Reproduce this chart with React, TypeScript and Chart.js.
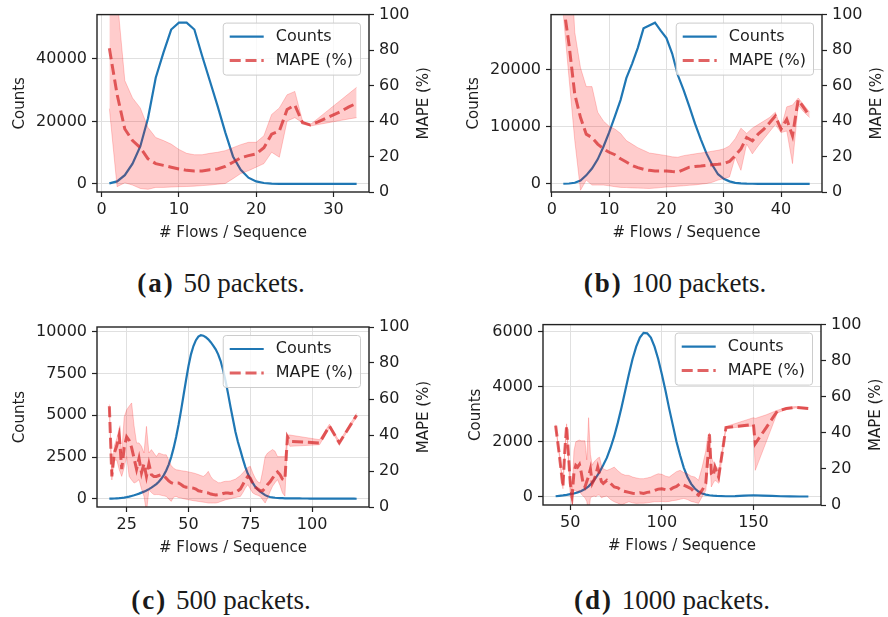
import React, { useEffect, useRef } from "react";
import { Chart, registerables } from "chart.js";
Chart.register(...registerables);

// ---------- shared texts / ticks ----------
const X_TITLE = "# Flows / Sequence";
const Y_TITLE = "Counts";
const Y2_TITLE = "MAPE (%)";
const LEGEND_LABELS = ["Counts", "MAPE (%)"];
const Y2_TICKS = [0, 20, 40, 60, 80, 100];
const Y2_LIM = [0, 100];

// ---------- (a) 50 packets ----------
const A_X = [1,2,3,4,5,6,7,8,9,10,11,12,13,14,15,16,17,18,19,20,21,22,23,24,25,26,27,28,29,30,31,32,33];
const A_COUNTS = [200,800,2800,6500,12000,21000,34000,42000,49400,51600,51600,49400,41000,33000,25000,16500,8800,4500,2000,800,300,100,50,30,20,20,10,10,10,10,10,10,10];
const A_MAPE = [81,55,35.5,29,25,18.7,16,15,14,13,12.2,11.9,11.9,12.6,13,14.4,16.8,19.3,20.5,21.5,25,32.6,34.4,46.5,49,39,37.8,39.5,41.5,43.5,45.5,48,50];
const A_HI = [160,110,62.8,53,47.4,36.3,30.7,29,27,24,21.8,21,21,21.8,22.4,23.3,25,26.7,28,28,31.7,43.7,47.4,54.8,56.7,40,38,41.5,45,48.5,52,55.5,59];
const A_LO = [47,3,5.2,3.9,2,1.5,2.6,2.6,2.8,3,3.1,3.3,3.6,3.9,4.4,4.8,7.5,10.4,12,14,16,22.4,19.6,40,41.9,39,37.2,38,38.8,39.6,40.4,41.2,41.9];
const A_XTICKS = [0, 10, 20, 30];
const A_XLIM = [-0.6, 34.6];
const A_YTICKS = [0, 20000, 40000];
const A_YLIM = [-2580, 54180];

// ---------- (b) 100 packets ----------
const B_X = [2,3,4,5,6,7,8,9,10,11,12,13,14,15,16,17,18,19,20,21,22,23,24,25,26,27,28,29,30,31,32,33,34,35,36,37,38,39,40,41,42,43,44,45];
const B_COUNTS = [30,80,200,600,1500,2700,4300,6500,9000,11800,14700,18500,21000,23800,27200,27700,28200,26800,25500,22800,19000,16400,13500,10500,7800,5300,3300,1700,900,450,200,100,50,30,20,20,15,15,10,10,10,10,10,10];
const B_MAPE = [106,83,55,42,32.6,30.7,27,24.3,22.4,21,18.7,16.9,15,13.7,12.8,12.2,11.9,11.9,11.9,11.5,11.3,12.6,14,14.4,14.6,15,15.4,15.6,16,17.2,20.5,24.3,30.7,28.9,32.6,35.4,39,42.8,35.4,41,31.7,52,47.4,42.8];
const B_HI = [150,150,90,70,59.4,59.4,45,40,37,35.5,33,29,27,25,23.5,22,21.5,21,20.5,19.8,19.6,20.5,21,21.5,22,22.4,23,23.5,24.3,26,30,36,33,36,38,40,42,45,36,48,49,53,49,45];
const B_LO = [100,64,29,1,6.7,3.9,3.9,3.9,3.5,3,2.6,2.5,2.3,2.2,2.1,2,2.2,2.5,2.8,3,3.3,3.5,3.8,4,4.4,4.8,5.5,6.7,7.5,8.5,19.6,12.2,27,21.5,26,30,34,38,33.5,34.4,16,49,45,42];
const B_XTICKS = [0, 10, 20, 30, 40];
const B_XLIM = [-0.15, 47.15];
const B_YTICKS = [0, 10000, 20000];
const B_YLIM = [-1410, 29610];

// ---------- (c) 500 packets ----------
const C_X = [18,19,20,21,22,23,24,25,26,27,28,29,30,31,32,33,34,35,36,37,38,39,40,41,42,43,44,45,46,47,48,49,50,51,52,53,54,55,56,57,58,59,60,61,62,63,64,65,66,67,68,69,70,71,72,73,74,75,76,77,78,79,80,81,82,83,84,85,86,87,88,89,90,91,92,93,94,95,96,97,98,99,100,101,102,103,104,105,106,107,108,109,110,111,112,113,114,115,116,117,118];
const C_COUNTS = [10,15,20,30,40,55,75,100,130,170,210,260,310,370,430,500,580,670,770,880,1020,1200,1420,1700,2050,2500,3050,3700,4450,5300,6200,7100,7950,8650,9150,9500,9720,9800,9770,9680,9550,9380,9180,8950,8650,8250,7700,7050,6300,5500,4750,4000,3400,2900,2380,1900,1500,1200,950,720,560,430,320,220,150,110,85,65,50,42,36,32,30,28,26,24,22,21,20,19,18,17,16,15,14,13,12,12,11,11,10,10,9,9,8,8,7,7,6,6,5];
const C_MX = [18,19,20,21,22,23,24,25,26,27,28,29,30,31,32,33,34,35,36,37,38,39,40,41,42,43,44,45,46,47,48,49,50,51,52,53,54,55,56,57,58,59,60,61,62,63,64,65,66,67,68,69,70,71,72,73,74,75,76,77,78,79,80,81,82,83,84,85,86,87,88,89,90,91,103,107,111,118];
const C_MAPE = [56,17,30,34,40,21,33,39,37,33,27,21,27,19,24,17,24,18,17,17,17.5,18,17.5,16,14.5,13.5,13,13.3,13.3,12.5,11.5,11,11,10.7,10.5,10,9,8.7,8.5,8,7.8,7.2,6.9,6.7,6.9,7,7.5,7.8,7.8,7.5,7.8,8,9,10,12.5,15,17,16,13,11,10,9,9,10.5,12.5,14,16,18,19.5,18,15.5,15,39,36.5,35.6,45,35.6,51];
const C_HI = [57,18,34,38,44,30,50,54,56,57.8,45,35.6,35.6,33.7,30,44.8,30,31.9,30,28,30,29.5,29,29,26,23,21.5,20.7,20.5,20.2,20,19.8,19.5,19.2,18.9,18.5,18,17.5,17,18,19.8,17,15.2,14.5,13.5,13.5,14,14.3,14.3,14.5,15,15.5,16.5,17.5,19,20.5,22,22.6,18.9,16,14,13.3,20,28,30,31,31.9,31,28,28,28,28,40,40,37.4,46,36.5,52];
const C_LO = [55,15,26,26,20.7,17,22,28,17,15,13.3,14,15.2,10,6,-3,9.6,8,6.9,6.9,6.9,6.5,6.2,5.9,4.5,3.1,5.5,5.9,5.2,5,4.6,4.3,4,3.8,3.5,3.3,3.1,2.9,2.7,2.5,2.2,2.2,2.2,2.2,2.5,3,3.5,4,4.3,4.6,5,5.3,5.6,5.9,8,10.5,12.4,10,7.8,7,6.5,5.9,4,2.2,5,8.5,11.5,13.5,15.2,12,7.8,6,37.4,33.7,34.6,44,35,50];
const C_XTICKS = [25, 50, 75, 100];
const C_XLIM = [13, 123];
const C_YTICKS = [0, 2500, 5000, 7500, 10000];
const C_YLIM = [-490, 10290];

// ---------- (d) 1000 packets ----------
const D_X = [42,44,46,48,50,52,54,56,58,60,62,64,66,68,70,72,74,76,78,80,82,84,86,88,90,92,94,96,98,100,102,104,106,108,110,112,114,116,118,120,122,124,126,128,130,135,140,145,150,155,160,165,170,175,180];
const D_COUNTS = [20,35,50,70,95,120,160,210,280,380,520,700,900,1150,1420,1780,2200,2700,3250,3850,4450,5000,5450,5780,5950,5930,5780,5450,5000,4450,3850,3200,2600,2000,1500,1050,720,470,300,190,120,80,55,40,30,20,25,40,55,45,30,20,15,10,10];
const D_MX = [42,44,46,47,48,50,51,52,53,54,55,56,57,58,59,60,61,62,63,64,65,66,67,68,70,72,74,76,78,80,82,84,86,88,90,92,94,96,98,100,102,104,106,108,110,112,114,116,118,120,122,124,125,126,127,128,129,130,131,135,150,151,157,163,168,173,180];
const D_MAPE = [44,28,10,30,44,12,5,18,22,21,22.5,18,12,10,13,16,20,12,14,17,21,17,13,12,13.7,12,10,9.5,8,7.5,7,6.5,6.4,6.8,6.4,7,7.3,8,8.8,9,8.5,8.2,9.5,10.3,11.9,11,10,9,7,5.5,8.2,11.9,25,39.2,17.3,16,21,18,15.5,42.9,44.7,34,42.9,52,53.5,54.2,53.5];
const D_HI = [44.5,29,11,31,45,14,8,30,35,35.6,36,35.6,35.6,35.6,25,48.4,28,22,24,25,26,26.5,22,20,19.2,20,21,19,17.3,16.5,16.4,15.5,15,14.6,14.6,15,15.5,16.5,17.3,17,16,15.5,17,18.5,19.2,18,17.3,16,15.5,13.7,21,30,37.4,40,26.5,24,22,21,19,43.5,48.4,48,50,52.5,54,54.6,54];
const D_LO = [43.5,27,9,29,43,4.6,2,8.2,8,7,8,6,5,4,2,-5,4,4.6,5,4.6,5.5,5.5,4,4.5,5,3,1.8,1,0,1,1.8,1.2,0.9,1,1,1.2,1.5,1.8,1.8,2,1.8,2,2.4,2.7,3.2,3.6,3,2,1.5,0.9,4.6,8,19.2,30,10,12,13.7,13,12,42.5,43.8,19.2,35,51,53,53.8,53];
const D_XTICKS = [50, 100, 150];
const D_XLIM = [35.1, 186.9];
const D_YTICKS = [0, 2000, 4000, 6000];
const D_YLIM = [-298, 6248];

const CAPTIONS = [
  ["(a)", "50 packets."],
  ["(b)", "100 packets."],
  ["(c)", "500 packets."],
  ["(d)", "1000 packets."],
];

// ---------- styles ----------
const FONT = "'DejaVu Sans', sans-serif";
const TICK_SIZE = 16;
const LABEL_SIZE = 15;
const LEGEND_SIZE = 16;
const TEXT = "#1e1e1e";
const AXIS = "#222222";
const GRID = "#e0e0e0";
const BLUE = "#1f77b4";
const RED = "rgba(214,39,40,0.72)";
const BAND = "rgba(255,0,0,0.2)";
const DASH = [11, 4.8];

type Panel = {
  box: { x: number; y: number; w: number; h: number };
  padTop: number; lw: number; rw: number; xh: number;
  cx: number[]; counts: number[];
  mx: number[]; mape: number[]; hi: number[]; lo: number[];
  xticks: number[]; xlim: number[]; yticks: number[]; ylim: number[];
};

const PANELS: Panel[] = [
  { box: { x: 0, y: 0, w: 444, h: 250 }, padTop: 12, lw: 97, rw: 75, xh: 58,
    cx: A_X, counts: A_COUNTS, mx: A_X, mape: A_MAPE, hi: A_HI, lo: A_LO,
    xticks: A_XTICKS, xlim: A_XLIM, yticks: A_YTICKS, ylim: A_YLIM },
  { box: { x: 444, y: 0, w: 444, h: 250 }, padTop: 12, lw: 107, rw: 66, xh: 58,
    cx: B_X, counts: B_COUNTS, mx: B_X, mape: B_MAPE, hi: B_HI, lo: B_LO,
    xticks: B_XTICKS, xlim: B_XLIM, yticks: B_YTICKS, ylim: B_YLIM },
  { box: { x: 0, y: 310, w: 444, h: 250 }, padTop: 17, lw: 97, rw: 75, xh: 53,
    cx: C_X, counts: C_COUNTS, mx: C_MX, mape: C_MAPE, hi: C_HI, lo: C_LO,
    xticks: C_XTICKS, xlim: C_XLIM, yticks: C_YTICKS, ylim: C_YLIM },
  { box: { x: 444, y: 310, w: 444, h: 250 }, padTop: 12, lw: 99, rw: 67, xh: 55,
    cx: D_X, counts: D_COUNTS, mx: D_MX, mape: D_MAPE, hi: D_HI, lo: D_LO,
    xticks: D_XTICKS, xlim: D_XLIM, yticks: D_YTICKS, ylim: D_YLIM },
];

const CAPTION_POS = [
  { left: 0, top: 268, width: 442 },
  { left: 450, top: 268, width: 450 },
  { left: 0, top: 585, width: 442 },
  { left: 444, top: 585, width: 456 },
];

function pts(xs: number[], ys: number[]) {
  return xs.map((x, i) => ({ x, y: ys[i] }));
}

function rotText(ctx: CanvasRenderingContext2D, text: string, x: number, y: number) {
  ctx.save();
  ctx.translate(x, y);
  ctx.rotate(-Math.PI / 2);
  ctx.fillText(text, 0, 0);
  ctx.restore();
}

const decoPlugin = {
  id: "deco",
  afterDraw(chart: any) {
    const ctx: CanvasRenderingContext2D = chart.ctx;
    const { left, right, top, bottom } = chart.chartArea;
    ctx.save();
    // frame
    ctx.strokeStyle = AXIS;
    ctx.lineWidth = 1.4;
    ctx.strokeRect(left, top, right - left, bottom - top);
    // axis titles
    ctx.fillStyle = TEXT;
    ctx.textAlign = "center";
    ctx.textBaseline = "middle";
    ctx.font = `${LABEL_SIZE}px ${FONT}`;
    ctx.fillText(X_TITLE, (left + right) / 2, bottom + 41);
    ctx.font = `${TICK_SIZE}px ${FONT}`;
    const wL = Math.max(...chart.scales.y.ticks.map((t: any) => ctx.measureText(String(t.label)).width));
    const wR = Math.max(...chart.scales.y2.ticks.map((t: any) => ctx.measureText(String(t.label)).width));
    ctx.font = `${LABEL_SIZE}px ${FONT}`;
    const midY = (top + bottom) / 2;
    rotText(ctx, Y_TITLE, left - 10 - wL - 16, midY);
    rotText(ctx, Y2_TITLE, right + 10 + wR + 15, midY);
    // legend
    ctx.font = `${LEGEND_SIZE}px ${FONT}`;
    const tw = Math.max(...LEGEND_LABELS.map((s) => ctx.measureText(s).width));
    const bw = 53 + tw + 7;
    const bh = 52;
    const bx = right - 9 - bw;
    const by = top + 8;
    ctx.beginPath();
    (ctx as any).roundRect(bx + 0.5, by + 0.5, bw, bh, 3);
    ctx.fillStyle = "rgba(255,255,255,0.8)";
    ctx.fill();
    ctx.strokeStyle = "#cccccc";
    ctx.lineWidth = 1;
    ctx.stroke();
    const r1 = by + 14;
    const r2 = by + 38;
    ctx.beginPath();
    ctx.strokeStyle = BLUE;
    ctx.lineWidth = 2.2;
    ctx.moveTo(bx + 7, r1);
    ctx.lineTo(bx + 41, r1);
    ctx.stroke();
    ctx.beginPath();
    ctx.strokeStyle = RED;
    ctx.lineWidth = 3;
    ctx.setLineDash(DASH);
    ctx.moveTo(bx + 7, r2);
    ctx.lineTo(bx + 41, r2);
    ctx.stroke();
    ctx.setLineDash([]);
    ctx.fillStyle = TEXT;
    ctx.textAlign = "left";
    ctx.fillText(LEGEND_LABELS[0], bx + 53, r1);
    ctx.fillText(LEGEND_LABELS[1], bx + 53, r2);
    ctx.restore();
  },
};

function buildConfig(p: Panel): any {
  const tickFont = { family: FONT, size: TICK_SIZE };
  const fixed = (vals: number[]) => (s: any) => {
    s.ticks = vals.map((v) => ({ value: v }));
  };
  return {
    type: "line",
    data: {
      datasets: [
        { label: "Counts", data: pts(p.cx, p.counts), yAxisID: "y", borderColor: BLUE, borderWidth: 2.2,
          pointRadius: 0, fill: false, tension: 0, order: 4 },
        { label: "hi", data: pts(p.mx, p.hi), yAxisID: "y2", borderColor: BAND, borderWidth: 1,
          backgroundColor: BAND, pointRadius: 0, fill: "+1", tension: 0, order: 3 },
        { label: "lo", data: pts(p.mx, p.lo), yAxisID: "y2", borderColor: BAND, borderWidth: 1,
          pointRadius: 0, fill: false, tension: 0, order: 2 },
        { label: "MAPE (%)", data: pts(p.mx, p.mape), yAxisID: "y2", borderColor: RED, borderWidth: 3,
          borderDash: DASH, pointRadius: 0, fill: false, tension: 0, order: 1 },
      ],
    },
    options: {
      animation: false,
      responsive: false,
      maintainAspectRatio: false,
      events: [],
      layout: { padding: { top: p.padTop, left: 0, right: 0, bottom: 0 } },
      plugins: { legend: { display: false }, tooltip: { enabled: false }, title: { display: false } },
      scales: {
        x: {
          type: "linear", min: p.xlim[0], max: p.xlim[1],
          afterBuildTicks: fixed(p.xticks),
          afterFit: (s: any) => { s.height = p.xh; },
          ticks: { font: tickFont, color: TEXT, padding: 3, maxRotation: 0, autoSkip: false, callback: (v: any) => String(v) },
          grid: { color: GRID, lineWidth: 1, tickColor: AXIS, tickLength: 5, tickWidth: 1.2 },
          border: { display: false },
        },
        y: {
          type: "linear", position: "left", min: p.ylim[0], max: p.ylim[1],
          afterBuildTicks: fixed(p.yticks),
          afterFit: (s: any) => { s.width = p.lw; },
          ticks: { font: tickFont, color: TEXT, padding: 5, callback: (v: any) => String(v) },
          grid: { color: GRID, lineWidth: 1, tickColor: AXIS, tickLength: 5, tickWidth: 1.2 },
          border: { display: false },
        },
        y2: {
          type: "linear", position: "right", min: Y2_LIM[0], max: Y2_LIM[1],
          afterBuildTicks: fixed(Y2_TICKS),
          afterFit: (s: any) => { s.width = p.rw; },
          ticks: { font: tickFont, color: TEXT, padding: 5, callback: (v: any) => String(v) },
          grid: { drawOnChartArea: false, tickColor: AXIS, tickLength: 5, tickWidth: 1.2 },
          border: { display: false },
        },
      },
    },
    plugins: [decoPlugin],
  };
}

function PanelChart({ p }: { p: Panel }) {
  const ref = useRef<HTMLCanvasElement>(null);
  useEffect(() => {
    const chart = new Chart(ref.current as HTMLCanvasElement, buildConfig(p));
    return () => chart.destroy();
  }, [p]);
  return (
    <canvas
      ref={ref}
      width={p.box.w}
      height={p.box.h}
      style={{ position: "absolute", left: p.box.x, top: p.box.y, width: p.box.w, height: p.box.h }}
    />
  );
}

export default function App() {
  return (
    <div style={{ position: "absolute", left: 0, top: 0, width: 888, height: 617, background: "#fff", overflow: "hidden" }}>
      {PANELS.map((p, i) => (
        <PanelChart key={i} p={p} />
      ))}
      {CAPTIONS.map((c, i) => (
        <div
          key={"c" + i}
          style={{
            position: "absolute",
            left: CAPTION_POS[i].left,
            top: CAPTION_POS[i].top,
            width: CAPTION_POS[i].width,
            textAlign: "center",
            fontFamily: "'Liberation Serif', serif",
            fontSize: 27,
            lineHeight: "30px",
            color: "#1a1a1a",
            whiteSpace: "nowrap",
          }}
        >
          <b style={{ letterSpacing: 2, marginRight: 2 }}>{c[0]}</b> {c[1]}
        </div>
      ))}
    </div>
  );
}
